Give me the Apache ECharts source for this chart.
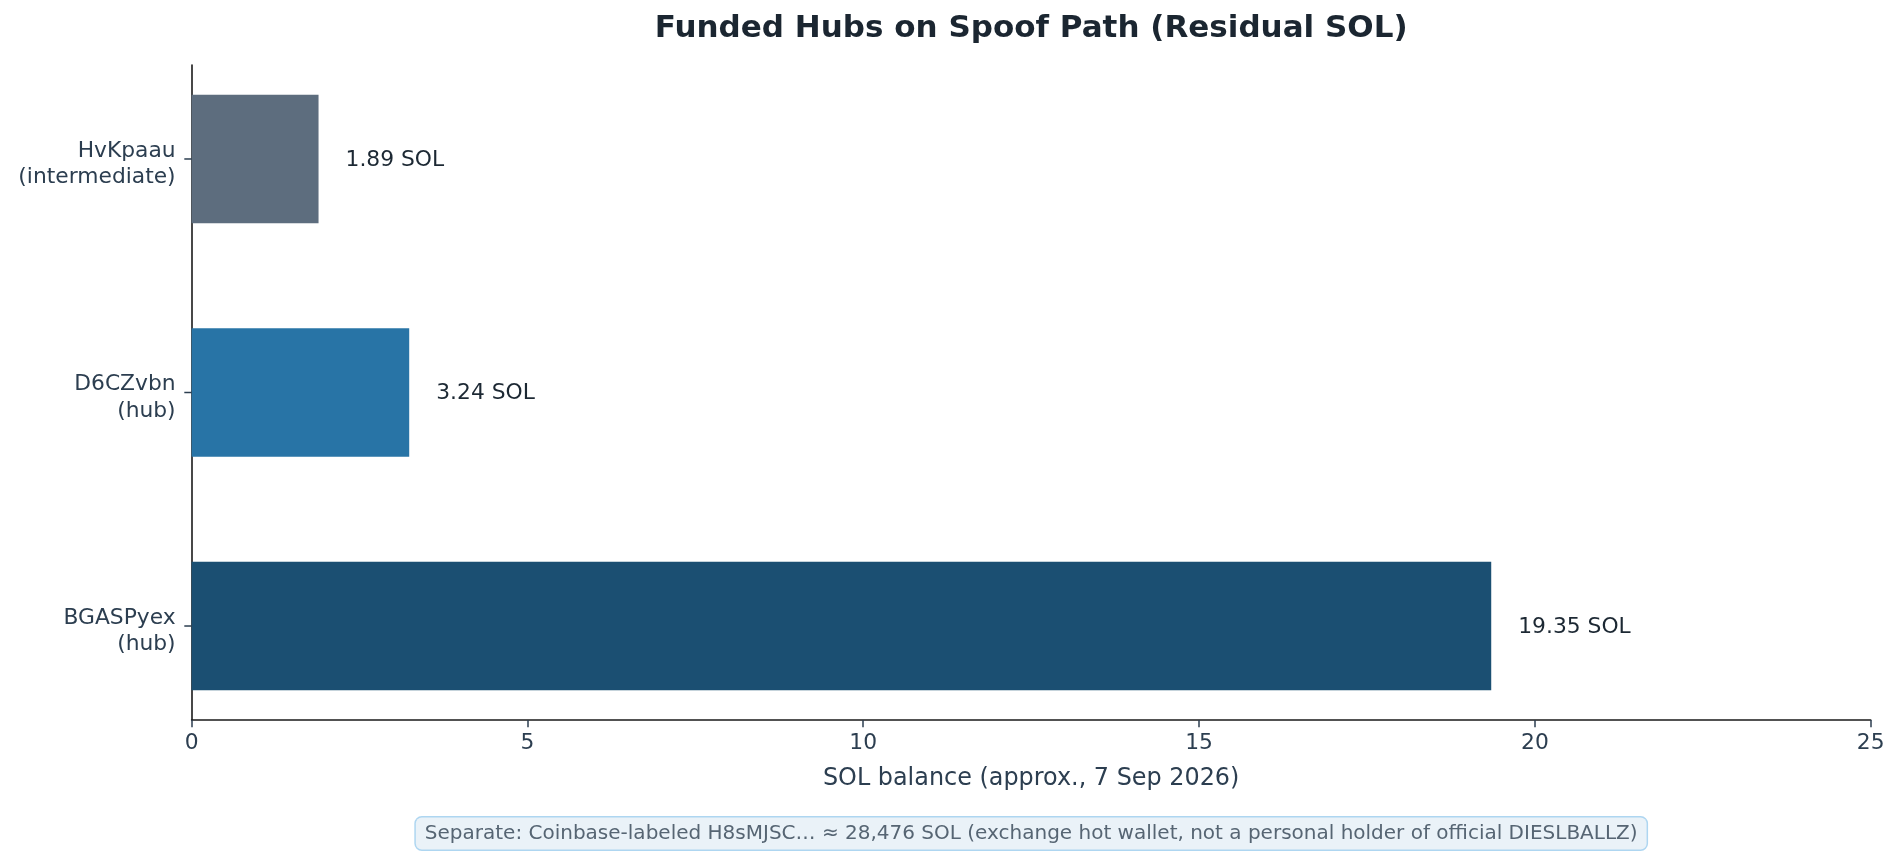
<!DOCTYPE html>
<html>
<head>
<meta charset="utf-8">
<script src="https://cdn.jsdelivr.net/npm/echarts@6/dist/echarts.min.js"></script>
<style>
  html, body { margin: 0; padding: 0; background: #fff; }
  #chart { width: 1901px; height: 860px; }
</style>
</head>
<body>
<div id="chart"></div>
<script>
// hubs, top to bottom
const hubNames = ['HvKpaau', 'D6CZvbn', 'BGASPyex'];
const hubRoles = ['(intermediate)', '(hub)', '(hub)'];
const solBalance = [1.89, 3.24, 19.35];
const barColors = ['#5d6d7e', '#2874a6', '#1b4f72'];
const xTicks = [0, 5, 10, 15, 20, 25];

const titleText = 'Funded Hubs on Spoof Path (Residual SOL)';
const xLabel = 'SOL balance (approx., 7 Sep 2026)';
const noteText = 'Separate: Coinbase-labeled H8sMJSC\u2026 \u2248 28,476 SOL (exchange hot wallet, not a personal holder of official DIESLBALLZ)';

const FONT = 'DejaVu Sans';
const barH = 0.55;
// matplotlib style margins around the bars
const yPad = 0.05 * (hubNames.length - 1 + barH);
const yMin = -barH / 2 - yPad;
const yMax = hubNames.length - 1 + barH / 2 + yPad;

const chart = echarts.init(document.getElementById('chart'));

const seriesData = solBalance.map((v, i) => ({
  value: [v, i],
  itemStyle: { color: barColors[i] }
}));

function renderHub(params, api) {
  const i = api.value(1);
  const v = api.value(0);
  const start = api.coord([0, i]);
  const end = api.coord([v, i]);
  const h = Math.abs(api.size([0, barH])[1]);
  return {
    type: 'group',
    children: [
      {
        type: 'rect',
        shape: { x: start[0], y: start[1] - h / 2, width: end[0] - start[0], height: h },
        style: { fill: barColors[i] }
      },
      {
        type: 'text',
        x: end[0] + 27, y: end[1] + 1,
        style: {
          text: v.toFixed(2) + ' SOL', fill: '#1c2833',
          font: '21.8px "' + FONT + '"', align: 'left', verticalAlign: 'middle'
        }
      },
      {
        type: 'line',
        shape: { x1: start[0] - 7.3, y1: start[1], x2: start[0], y2: start[1] },
        style: { stroke: '#2c3e50', lineWidth: 1.5 }
      },
      {
        type: 'text',
        x: start[0] - 16, y: start[1] + 5.5,
        style: {
          text: hubNames[i] + '\n' + hubRoles[i], fill: '#2c3e50',
          font: '21.8px "' + FONT + '"', lineHeight: 26.5,
          align: 'right', verticalAlign: 'middle'
        }
      }
    ]
  };
}

chart.setOption({
  backgroundColor: '#ffffff',
  animation: false,
  grid: { left: 191.6, right: 30.3, top: 65, bottom: 140, containLabel: false },
  xAxis: {
    type: 'value',
    min: xTicks[0],
    max: xTicks[xTicks.length - 1],
    interval: 5,
    name: xLabel,
    nameLocation: 'middle',
    nameGap: 47,
    nameTextStyle: { color: '#2c3e50', fontSize: 23.9, fontFamily: FONT },
    axisLine: { show: true, onZero: false, lineStyle: { color: '#1a1a1a', width: 1.6 } },
    axisTick: { show: true, length: 7.3, lineStyle: { color: '#2c3e50', width: 1.5 } },
    axisLabel: { color: '#2c3e50', fontSize: 21.8, fontFamily: FONT, margin: 12 },
    splitLine: { show: false }
  },
  yAxis: {
    type: 'value',
    inverse: true,
    min: yMin,
    max: yMax,
    axisLine: { show: true, onZero: false, lineStyle: { color: '#1a1a1a', width: 1.6 } },
    axisTick: { show: false },
    axisLabel: { show: false },
    splitLine: { show: false }
  },
  series: [{
    type: 'custom',
    renderItem: renderHub,
    encode: { x: 0, y: 1 },
    data: seriesData,
    clip: false,
    z: 1
  }],
  graphic: [
    {
      type: 'text',
      x: 1031.2, y: 29,
      style: {
        text: titleText, fill: '#1b2631',
        font: 'bold 31px "' + FONT + '"', align: 'center', verticalAlign: 'middle'
      }
    },
    {
      type: 'text',
      x: 1031.2, y: 833.5,
      style: {
        text: noteText, fill: '#566573',
        font: '20px "' + FONT + '"', align: 'center', verticalAlign: 'middle',
        backgroundColor: '#eaf2f8', borderColor: '#aed6f1', borderWidth: 1.5,
        borderRadius: 6, padding: [6, 9, 6, 9]
      }
    }
  ]
});
</script>
</body>
</html>
